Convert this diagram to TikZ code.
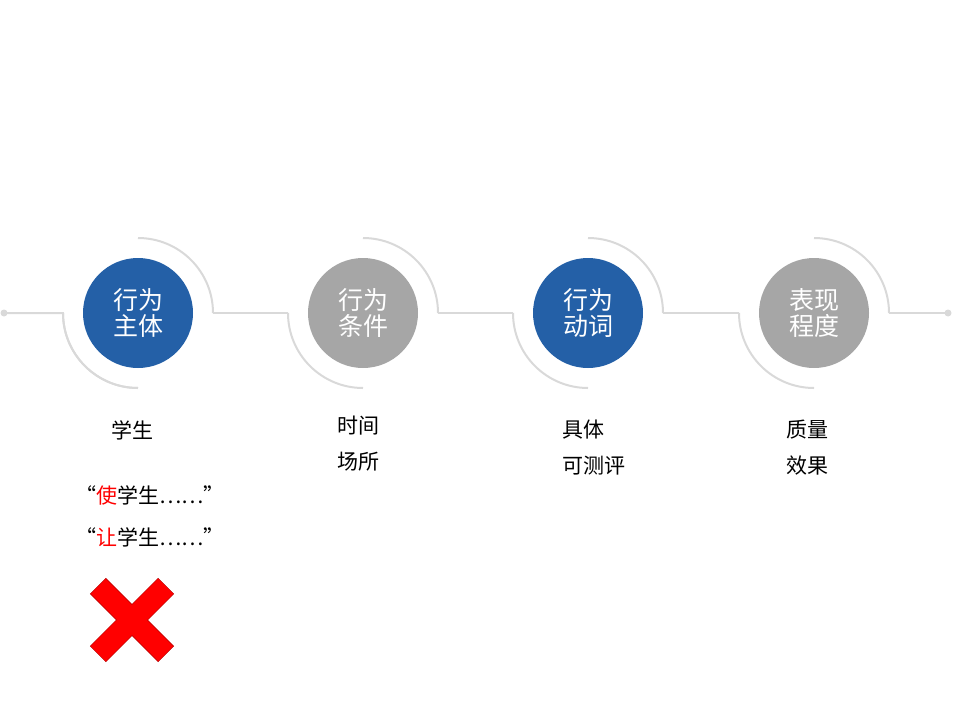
\documentclass[tikz,border=0pt]{standalone}
\usepackage{fontspec}
\newfontfamily\cjk{Noto Sans CJK SC}
\definecolor{cblue}{HTML}{2460A7}
\definecolor{cgray}{HTML}{A6A6A6}
\definecolor{lgray}{HTML}{D9D9D9}
\definecolor{xred}{HTML}{FF0000}
\begin{document}
\begin{tikzpicture}[x=1pt,y=-1pt,
  circ/.style={circle,minimum size=110pt,inner sep=0pt,text=white,font=\cjk\fontsize{25}{30}\selectfont,align=center},
  lbl/.style={font=\cjk\fontsize{21}{36}\selectfont,align=left,anchor=north west,inner sep=0pt},
  ln/.style={draw=lgray,line width=2pt}]
\useasboundingbox (0,0) rectangle (960,720);
\node[circ,fill=cblue] (c1) at (138,313) {行为\\[-4pt]主体};
\node[circ,fill=cgray] (c2) at (363,313) {行为\\[-4pt]条件};
\node[circ,fill=cblue] (c3) at (588,313) {行为\\[-4pt]动词};
\node[circ,fill=cgray] (c4) at (814,313) {表现\\[-4pt]程度};
\coordinate (s) at (4,313);
\coordinate (e) at (948,313);
\fill[lgray] (s) circle (3.5);
\fill[lgray] (e) circle (3.5);
\draw[ln] (s) -- (63,313) arc[start angle=180,end angle=90,radius=75];
\foreach \c/\n in {138/a,363/b,588/c,814/d}{
  \draw[ln] (\c,238) arc[start angle=-90,end angle=0,radius=75];
  \draw[ln] (\c-75,313) arc[start angle=180,end angle=90,radius=75];
}
\draw[ln] (213,313) -- (288,313);
\draw[ln] (438,313) -- (513,313);
\draw[ln] (663,313) -- (739,313);
\draw[ln] (889,313) -- (e);
\node[lbl] (t1) at (111,420) {学生};
\node[lbl] (t2) at (337,416) {时间\\场所};
\node[lbl] (t3) at (562,420) {具体\\可测评};
\node[lbl] (t4) at (786,420) {质量\\效果};
\node[lbl,font=\cjk\fontsize{21}{42}\selectfont] (q) at (75,485) {“\textcolor{xred}{使}学生……”\\“\textcolor{xred}{让}学生……”};
\node[fill=xred,draw=red!70!black,line width=0.5pt,minimum width=96pt,minimum height=22pt,rotate=45,inner sep=0pt] (x1) at (132,620) {};
\node[fill=xred,minimum width=96pt,draw=red!70!black,line width=0.5pt,minimum height=22pt,rotate=-45,inner sep=0pt] (x2) at (132,620) {};
\node[fill=xred,minimum width=95pt,minimum height=21pt,rotate=45,inner sep=0pt] at (132,620) {};
\end{tikzpicture}
\end{document}
